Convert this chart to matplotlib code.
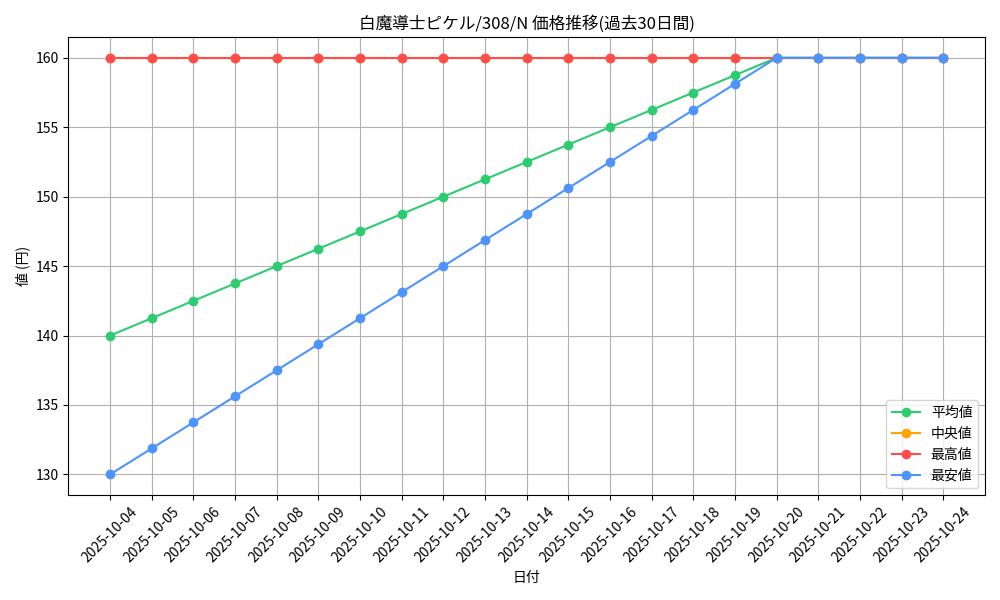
import matplotlib
matplotlib.use("Agg")
import matplotlib.pyplot as plt

plt.rcParams['font.family'] = ['Noto Sans CJK JP', 'DejaVu Sans']

dates = ["2025-10-04", "2025-10-05", "2025-10-06", "2025-10-07", "2025-10-08",
         "2025-10-09", "2025-10-10", "2025-10-11", "2025-10-12", "2025-10-13",
         "2025-10-14", "2025-10-15", "2025-10-16", "2025-10-17", "2025-10-18",
         "2025-10-19", "2025-10-20", "2025-10-21", "2025-10-22", "2025-10-23",
         "2025-10-24"]
avg_vals = [140, 141.25, 142.5, 143.75, 145, 146.25, 147.5, 148.75, 150, 151.25,
            152.5, 153.75, 155, 156.25, 157.5, 158.75, 160, 160, 160, 160, 160]
median_vals = [160] * 21
max_vals = [160] * 21
min_vals = [130, 131.875, 133.75, 135.625, 137.5, 139.375, 141.25, 143.125, 145,
            146.875, 148.75, 150.625, 152.5, 154.375, 156.25, 158.125, 160, 160,
            160, 160, 160]

fig, ax = plt.subplots(figsize=(10, 6), dpi=100)
ax.plot(dates, avg_vals, marker='o', color='#2ecc71', label='平均値')
ax.plot(dates, median_vals, marker='o', color='#ffa500', label='中央値')
ax.plot(dates, max_vals, marker='o', color='#ff4d4d', label='最高値')
ax.plot(dates, min_vals, marker='o', color='#4d94ff', label='最安値')

ax.set_title("白魔導士ピケル/308/N 価格推移(過去30日間)")
ax.set_xlabel("日付")
ax.set_ylabel("値 (円)")
ax.grid(True)
ax.legend(loc='lower right')
plt.xticks(rotation=45)
plt.tight_layout()
plt.savefig("out.png")
